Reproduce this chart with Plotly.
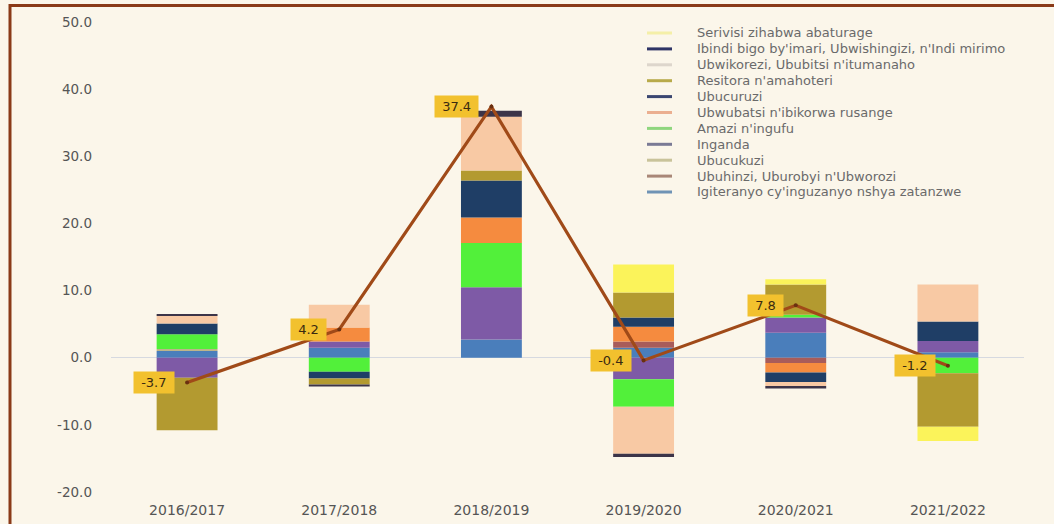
import plotly.graph_objects as go

years = ["2016/2017", "2017/2018", "2018/2019", "2019/2020", "2020/2021", "2021/2022"]

# Sector contributions (stack order, bottom to top)
igiteranyo = [1.0, 1.5, 2.7, 1.5, 3.7, 0.8]
ubuhinzi = [0.0, 0.0, 0.0, 0.9, -0.8, 0.0]
ubucukuzi = [0.3, 0.0, 0.0, 0.0, 0.0, 0.0]
inganda = [-3.0, 0.9, 7.8, -3.2, 2.3, 1.7]
amazi = [2.2, -2.1, 6.6, -4.1, 0.4, -2.3]
ubwubatsi = [0.0, 2.1, 3.8, 2.2, -1.4, 0.0]
ubucuruzi = [1.6, -1.0, 5.5, 1.4, -1.4, 2.9]
resitora = [-7.8, -0.9, 1.5, 3.7, 4.5, -8.0]
ubwikorezi = [1.2, 3.4, 8.0, -7.0, -0.6, 5.5]
ibindi = [0.2, -0.3, 0.9, -0.5, -0.4, 0.0]
serivisi = [0.0, 0.0, 0.0, 4.2, 0.8, -2.1]

total = [-3.7, 4.2, 37.4, -0.4, 7.8, -1.2]

y_tickvals = [-20, -10, 0, 10, 20, 30, 40, 50]
y_ticktext = ["-20.0", "-10.0", "0.0", "10.0", "20.0", "30.0", "40.0", "50.0"]

names = [
    "Igiteranyo cy'inguzanyo nshya zatanzwe",
    "Ubuhinzi, Uburobyi n'Ubworozi",
    "Ubucukuzi",
    "Inganda",
    "Amazi n'ingufu",
    "Ubwubatsi n'ibikorwa rusange",
    "Ubucuruzi",
    "Resitora n'amahoteri",
    "Ubwikorezi, Ububitsi n'itumanaho",
    "Ibindi bigo by'imari, Ubwishingizi, n'Indi mirimo",
    "Serivisi zihabwa abaturage",
]
series = [igiteranyo, ubuhinzi, ubucukuzi, inganda, amazi, ubwubatsi,
          ubucuruzi, resitora, ubwikorezi, ibindi, serivisi]
colors = ["#4A7EBB", "#A85C5A", "#BDB58A", "#7E5AA6", "#52F03A", "#F58B3F",
          "#1F3E66", "#B39A30", "#F8C9A4", "#3C3448", "#FBF35A"]
legend_colors = ["#6F93B5", "#A98777", "#C9C39A", "#7A7A95", "#8FD67E", "#EBAF90",
                 "#3A4670", "#B8AA4A", "#DDD6CC", "#2E3466", "#F4EFA8"]

bg = "#FBF6EA"
W, H = 1054, 524
ML, MR, MT, MB = 111, 30, 22, 32
PW, PH = W - ML - MR, H - MT - MB


def px_x(px):
    return (px - ML) / PW


def px_y(py):
    return (H - MB - py) / PH


fig = go.Figure()

for name, vals, col in zip(names, series, colors):
    fig.add_trace(go.Bar(x=years, y=vals, name=name, marker=dict(color=col, line=dict(width=0)),
                         width=0.4, showlegend=False))

fig.add_trace(go.Scatter(x=years, y=total, mode="lines+markers",
                         line=dict(color="#A04A18", width=3.2),
                         marker=dict(size=4, color="#6A3010"),
                         showlegend=False))

for yr, v in zip(years, total):
    fig.add_annotation(x=yr, y=v, text=f"&nbsp;{v:.1f}&nbsp;", showarrow=False,
                       xanchor="right", yanchor="middle", xshift=-12,
                       bgcolor="#F2C12E", borderpad=3,
                       font=dict(size=13, color="#3A2A10", family="DejaVu Sans"))

# manual legend (line sample + text), top to bottom
shapes = []
for i, (name, col) in enumerate(zip(names[::-1], legend_colors[::-1])):
    py = 33 + i * 15.9
    shapes.append(dict(type="line", xref="paper", yref="paper",
                       x0=px_x(647), x1=px_x(672), y0=px_y(py), y1=px_y(py),
                       line=dict(color=col, width=3)))
    fig.add_annotation(xref="paper", yref="paper", x=px_x(695), y=px_y(py),
                       text=name, showarrow=False, xanchor="left", yanchor="middle",
                       font=dict(size=13, color="#6A6A6A", family="DejaVu Sans"))

# outer frame
shapes.append(dict(type="rect", xref="paper", yref="paper",
                   x0=px_x(10), x1=px_x(1200), y0=px_y(700), y1=px_y(5.5),
                   line=dict(color="#8A3A18", width=3), fillcolor="rgba(0,0,0,0)"))

fig.update_layout(
    width=W, height=H,
    margin=dict(l=ML, r=MR, t=MT, b=MB, autoexpand=False),
    paper_bgcolor=bg, plot_bgcolor=bg,
    barmode="relative",
    showlegend=False,
    font=dict(family="DejaVu Sans", color="#595959", size=13),
    shapes=shapes,
)
fig.update_xaxes(showgrid=False, showline=False, ticks="", ticklabelstandoff=8,
                 automargin=False, tickfont=dict(size=14, color="#555555"))
fig.update_yaxes(range=[-20, 50], tickvals=y_tickvals, ticktext=y_ticktext, showgrid=False,
                 zeroline=True, zerolinecolor="#D6D9E0", zerolinewidth=1, automargin=False,
                 ticklabelstandoff=18, tickfont=dict(size=13.5, color="#555555"))

fig.write_html("out.html", config={"displayModeBar": False},
               post_script="document.body.style.margin='0';document.body.style.background='%s';" % bg)
